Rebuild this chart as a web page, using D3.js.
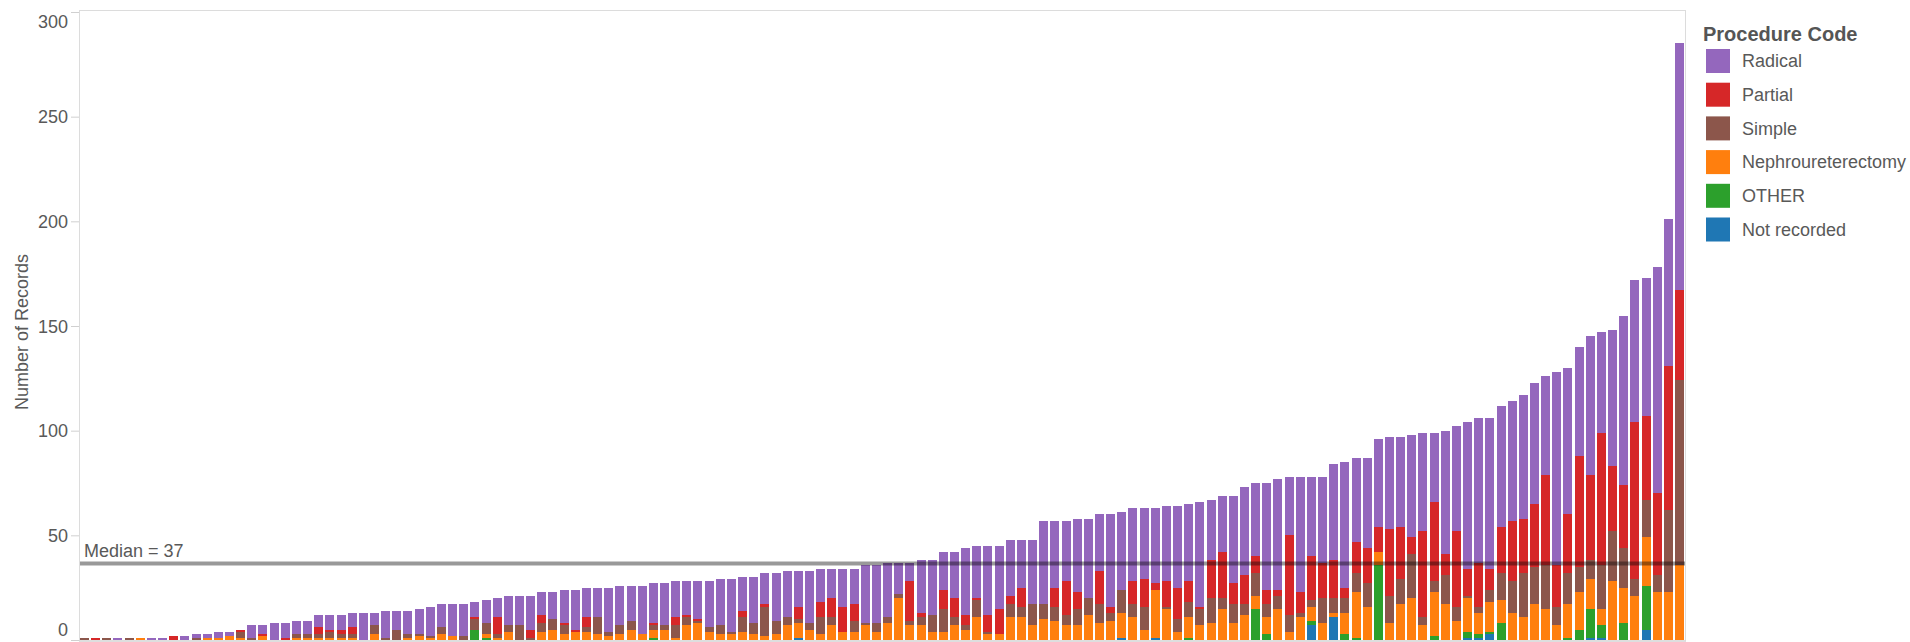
<!DOCTYPE html>
<html><head><meta charset="utf-8">
<script src="https://cdn.jsdelivr.net/npm/d3@7"></script>
<style>
html,body{margin:0;padding:0;background:#fff;overflow:hidden;}
svg{display:block;font-family:"Liberation Sans",Arial,sans-serif;}
</style></head><body>
<svg id="c" width="1910" height="642"></svg>
<script>
// ---- data (bars sorted ascending by total) ----
const notRecorded = [0,0,0,0,0,0,0,0,0,0, 0,0,0,0,0,0,0,0,0,0, 0,0,0,0,0,0,0,0,0,0, 0,0,0,0,0,0,0,0,0,0, 0,0,0,0,0,0,0,0,0,0, 0,0,0,0,0,0,0,0,0,0, 0,0,0,0,1,0,0,0,0,0, 0,0,0,0,0,0,0,0,0,0, 0,0,0,0,0,0,0,0,0,0, 0,0,0,1,0,0,1,0,0,0, 0,0,0,0,0,0,0,0,0,0, 7,0,11,0,0,0,0,0,0,0, 0,0,0,0,1,1,3,0,0,0, 0,0,0,0,0,1,1,0,0,0, 5,0,0,0];
const other       = [0,0,0,0,0,0,0,0,0,0, 0,0,0,0,0,0,0,0,0,0, 0,0,0,0,0,0,0,0,0,0, 0,0,0,0,0,5,1,0,0,0, 0,0,0,0,0,0,0,0,0,0, 0,1,0,0,0,0,0,0,0,0, 0,0,0,0,0,0,0,0,0,0, 0,0,0,0,0,0,0,0,0,0, 0,0,0,0,0,0,0,0,0,0, 0,0,0,0,0,0,0,0,0,1, 0,0,0,0,0,15,3,0,0,0, 2,0,0,3,1,0,36,0,0,0, 0,2,0,0,3,2,1,8,0,0, 0,0,0,1,5,14,6,0,8,0, 21,0,0,0];
const nephro      = [0,0,0,0,0,1,0,0,0,0, 0,1,1,2,1,0,2,0,0,1, 1,1,1,1,1,0,3,0,0,1, 2,1,3,2,0,0,2,1,4,0, 0,4,5,3,4,4,3,2,3,5, 3,4,5,1,7,8,4,3,3,4, 3,2,3,7,7,5,3,7,4,4, 7,4,8,20,7,7,4,4,7,5, 11,3,3,11,11,7,10,9,7,7, 12,8,9,12,11,5,23,15,4,10, 7,8,15,8,12,6,8,15,4,11, 7,8,2,10,22,16,6,8,17,20, 7,21,17,9,16,10,14,11,13,11, 17,15,7,16,18,14,8,28,17,21, 23,23,23,36];
const simple      = [1,0,1,0,1,0,0,0,0,0, 1,0,0,0,3,1,0,0,0,2, 2,2,3,2,2,0,4,1,5,2, 1,1,3,0,2,5,5,2,3,7, 1,4,5,4,0,2,8,2,4,4, 0,2,2,6,4,1,2,4,1,7, 5,14,6,4,2,3,8,4,0,5, 1,4,3,2,2,4,8,11,4,2, 8,1,0,6,5,10,7,7,5,8, 8,9,4,11,6,11,0,1,6,7, 8,12,5,9,5,11,6,6,8,2, 3,12,7,7,9,11,0,13,12,21, 4,5,14,7,1,3,6,13,15,21, 18,21,9,15,12,9,21,24,19,8, 18,8,39,88];
const partial     = [0,1,0,0,0,0,0,0,2,0, 0,0,0,0,1,0,1,0,1,0, 0,3,1,2,3,0,0,0,0,0, 0,0,0,0,0,1,0,8,0,0, 4,4,0,1,1,5,0,0,0,0, 0,1,0,4,1,1,0,0,0,3, 0,1,0,0,6,0,7,9,12,8, 0,0,0,0,19,2,0,9,9,5, 1,8,12,4,9,0,0,9,16,8, 0,16,3,0,11,13,3,12,15,10, 1,18,22,10,14,8,7,3,38,10, 21,17,18,5,15,17,12,32,25,8, 41,38,10,36,13,21,10,22,29,26, 30,43,20,28,53,41,63,31,30,75, 40,39,69,43];
const radical     = [0,0,0,1,0,0,1,1,0,2, 2,2,3,2,0,6,4,8,7,6, 6,6,7,7,7,13,6,13,9,11, 12,14,11,15,15,7,11,9,14,14, 16,11,13,16,19,14,14,21,19,17, 23,19,20,17,16,18,22,22,25,16, 22,15,23,22,17,25,16,14,18,17, 28,28,26,15,9,25,26,18,22,32, 25,33,30,27,23,31,40,32,29,35, 38,27,44,37,35,34,36,36,39,37, 50,29,27,42,42,35,51,53,28,55, 38,41,46,60,40,43,42,44,43,49, 47,33,59,50,70,69,72,58,57,59, 58,47,92,70,52,66,48,65,81,68, 66,108,70,118];
const categories = radical.map((_, i) => "Site " + (i + 1));

const seriesNames  = ["Not recorded", "OTHER", "Nephroureterectomy", "Simple", "Partial", "Radical"];
const seriesColors = ["#1f77b4", "#2ca02c", "#ff7f0e", "#8c564b", "#d62728", "#9467bd"];
const legendOrder  = ["Radical", "Partial", "Simple", "Nephroureterectomy", "OTHER", "Not recorded"];
const yTicks = [0, 50, 100, 150, 200, 250, 300];
const yTitle = "Number of Records";
const legendTitle = "Procedure Code";

// ---- build table ----
const seriesArrays = [notRecorded, other, nephro, simple, partial, radical];
const rows = categories.map((c, i) => {
  const r = {cat: c};
  seriesNames.forEach((s, k) => r[s] = seriesArrays[k][i]);
  return r;
});
const stacked = d3.stack().keys(seriesNames)(rows);
const totals = rows.map(r => d3.sum(seriesNames, s => r[s]));
const med = d3.median(totals);

// ---- layout ----
const svg = d3.select("#c");
const plot = {left: 79, right: 1686, top: 10.5, bottom: 641};
const x = d3.scaleBand().domain(categories).range([78.9, 1685.1]).paddingInner(0.193).paddingOuter(0.1);
const y = d3.scaleLinear().domain([0, 300]).range([640, 12]);
const color = d3.scaleOrdinal().domain(seriesNames).range(seriesColors);

// frame
const frame = svg.append("g").attr("stroke", "#dcdcdc").attr("stroke-width", 1).attr("fill", "none");
frame.append("line").attr("x1", plot.left + 0.5).attr("x2", plot.left + 0.5).attr("y1", plot.top).attr("y2", plot.bottom);
frame.append("line").attr("x1", plot.left).attr("x2", plot.right).attr("y1", plot.top).attr("y2", plot.top);
frame.append("line").attr("x1", plot.right - 0.5).attr("x2", plot.right - 0.5).attr("y1", plot.top).attr("y2", plot.bottom);

// bars
svg.append("g").selectAll("g").data(stacked).join("g")
  .attr("fill", d => color(d.key))
  .selectAll("rect").data(d => d).join("rect")
  .attr("shape-rendering", "crispEdges")
  .attr("x", d => x(d.data.cat))
  .attr("width", x.bandwidth())
  .attr("y", d => y(d[1]))
  .attr("height", d => Math.max(0, y(d[0]) - y(d[1])));

// bottom axis line
svg.append("line").attr("x1", plot.left).attr("x2", plot.right)
  .attr("y1", 641).attr("y2", 641).attr("stroke", "#d9d9d9").attr("stroke-width", 2).attr("opacity", 0.85);

// y axis
const yAxis = d3.axisLeft(y).tickValues(yTicks).tickSize(8).tickPadding(3).tickFormat(d3.format("d"));
const ga = svg.append("g").attr("transform", `translate(${plot.left},0)`).call(yAxis);
ga.select(".domain").remove();
ga.selectAll(".tick line").attr("stroke", "#d0d0d0");
ga.selectAll(".tick text")
  .attr("fill", "#595959").attr("font-size", 18).attr("font-family", "Liberation Sans, Arial, sans-serif")
  .attr("dy", "0.35em")
  .attr("y", d => Math.min(Math.max(y(d), 21), 629) - y(d));

svg.append("text")
  .attr("transform", "translate(28,332) rotate(-90)")
  .attr("text-anchor", "middle").attr("font-size", 18).attr("fill", "#595959")
  .text(yTitle);

// median reference line
svg.append("line").attr("x1", plot.left + 1).attr("x2", plot.right - 1)
  .attr("y1", y(med)).attr("y2", y(med))
  .attr("stroke", "#000").attr("stroke-opacity", 0.4).attr("stroke-width", 4);
svg.append("text").attr("x", 84).attr("y", y(med) - 7)
  .attr("font-size", 18).attr("fill", "#595959")
  .text("Median = " + Math.round(med));

// legend
const lg = svg.append("g").attr("transform", "translate(1703,0)");
lg.append("text").attr("x", 0).attr("y", 41).attr("font-size", 20).attr("font-weight", "bold")
  .attr("fill", "#555").text(legendTitle);
const items = lg.selectAll("g.item").data(legendOrder).join("g").attr("class", "item")
  .attr("transform", (d, i) => `translate(3,${49 + i * 33.7})`);
items.append("rect").attr("width", 24).attr("height", 24).attr("fill", d => color(d));
items.append("text").attr("x", 36).attr("y", 12).attr("dy", "0.35em")
  .attr("font-size", 18).attr("fill", "#595959").text(d => d);
</script>
</body></html>
